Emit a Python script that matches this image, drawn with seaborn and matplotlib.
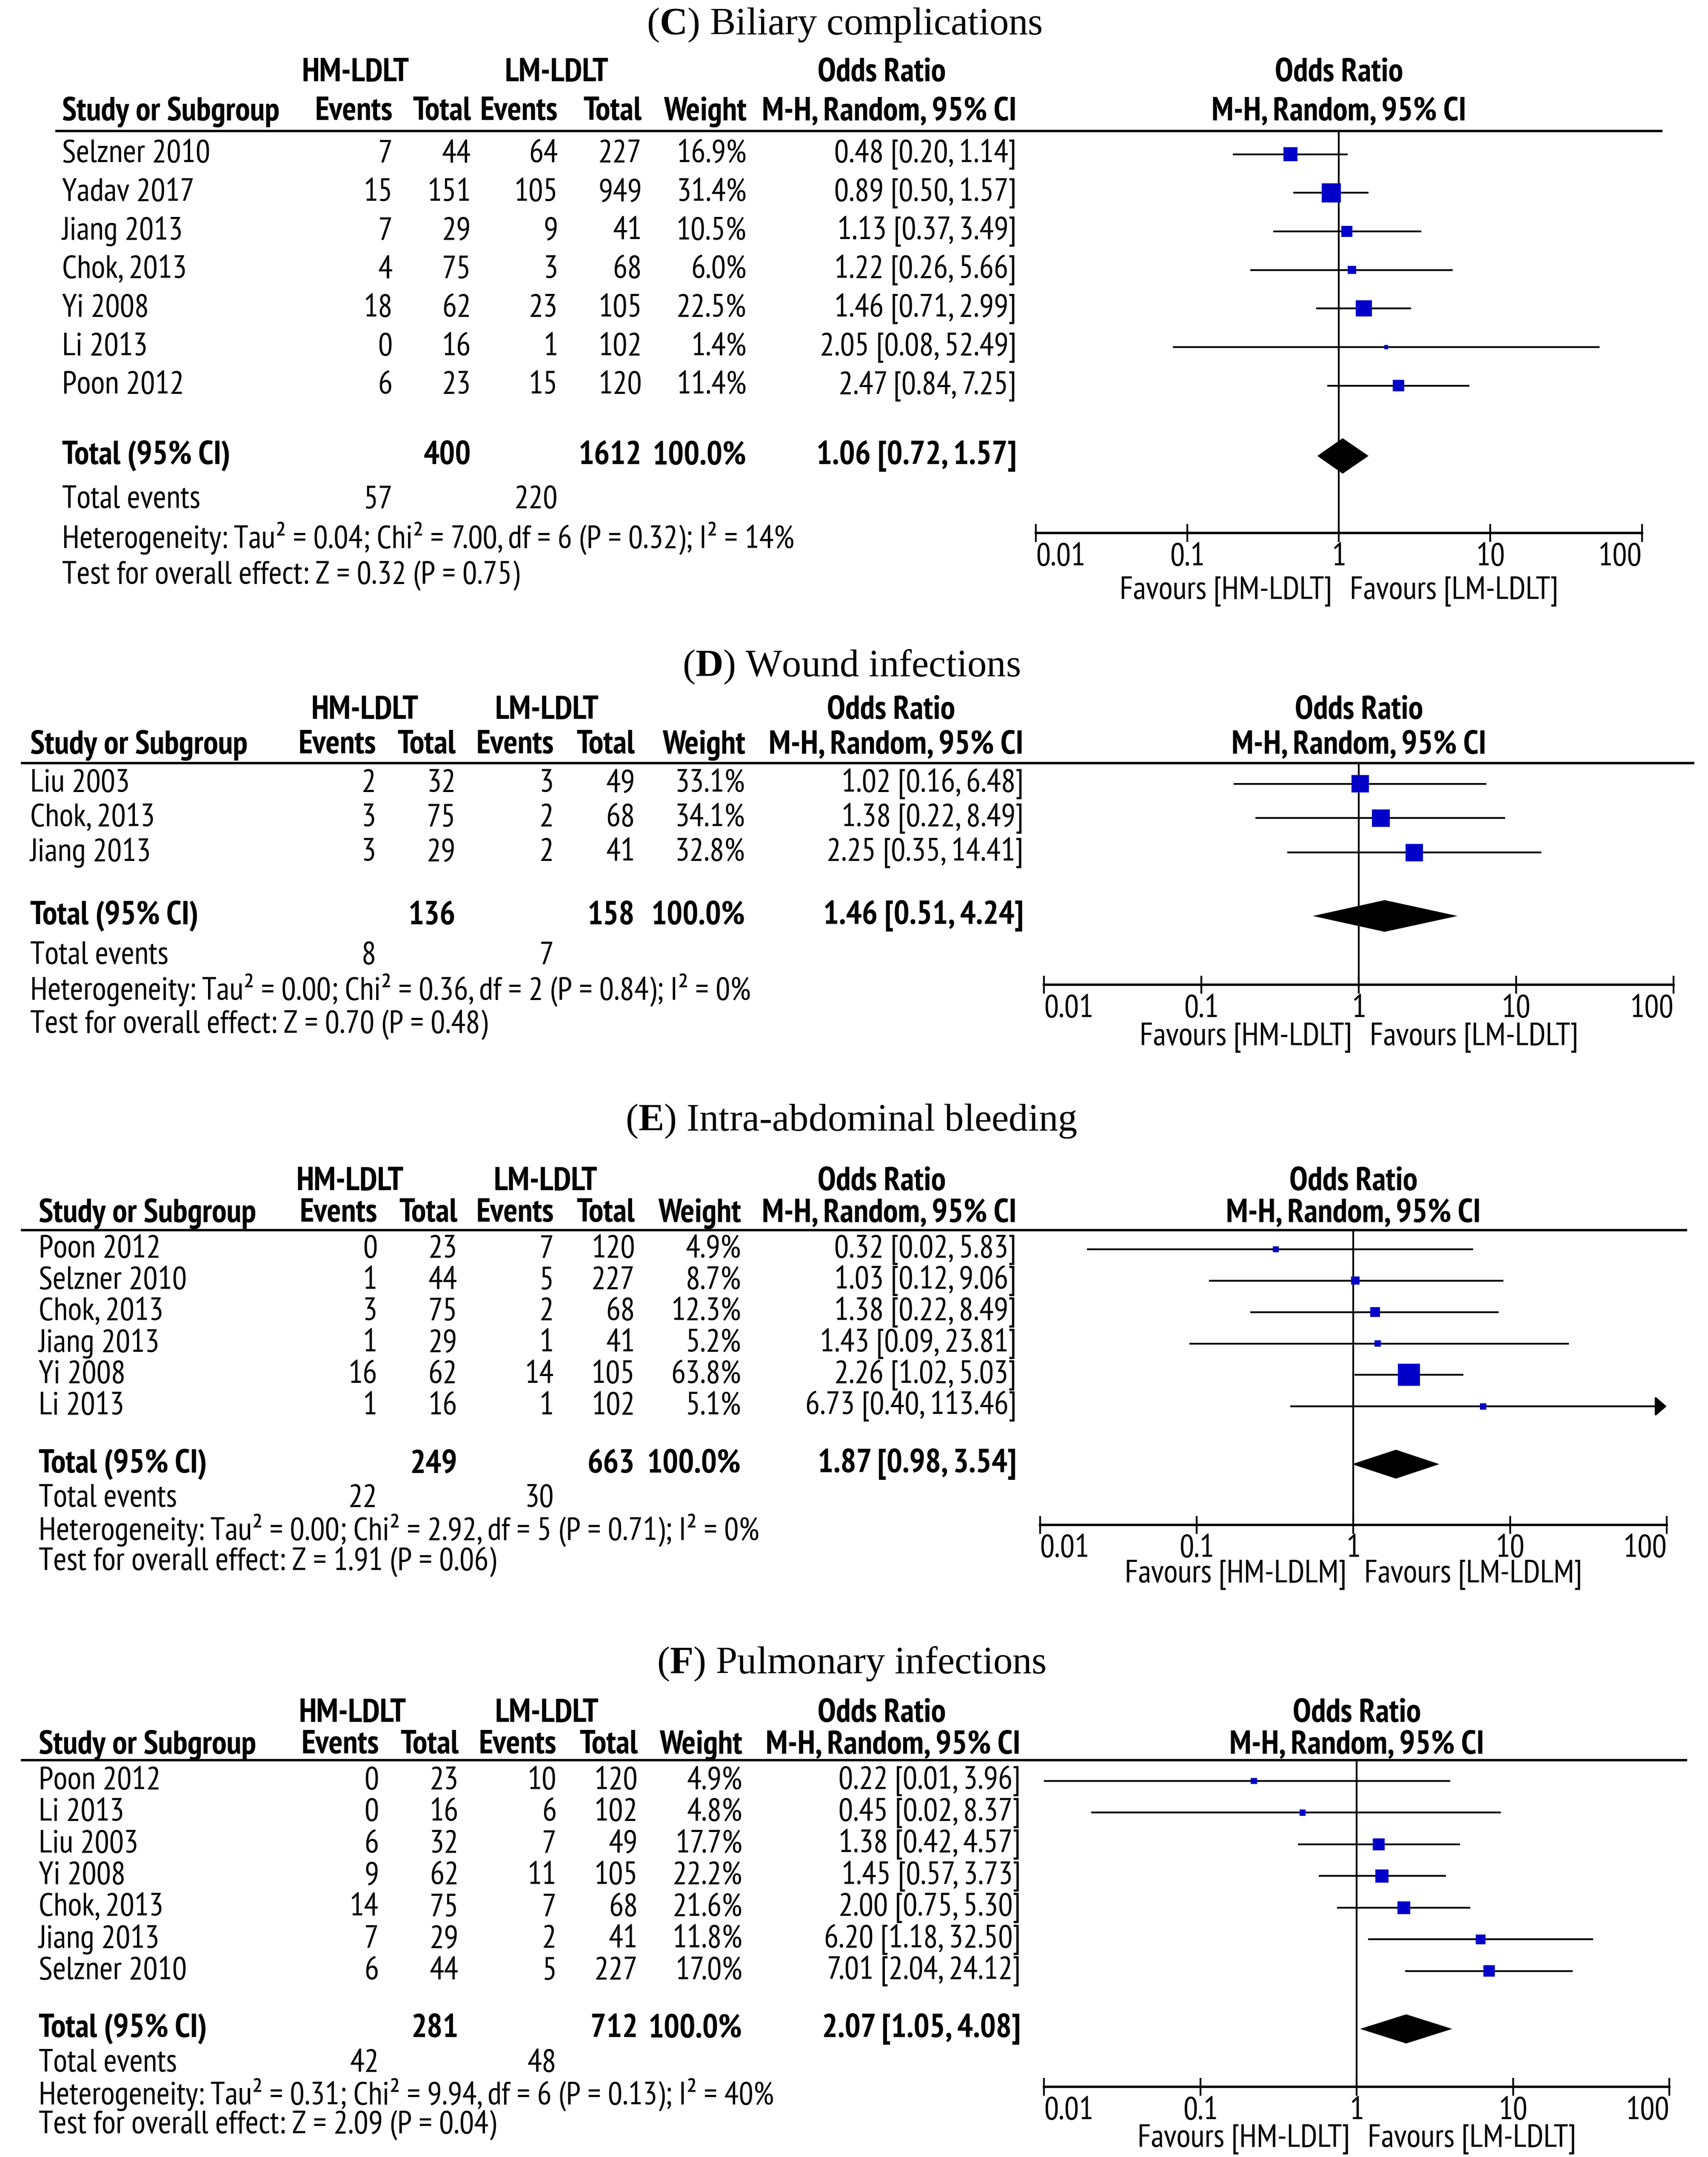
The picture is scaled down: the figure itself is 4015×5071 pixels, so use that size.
import matplotlib

matplotlib.use("Agg")
import matplotlib.pyplot as plt
import pandas as pd
import seaborn as sns

# ---- (C) Biliary complications
C_STUDY = ["Selzner 2010", "Yadav 2017", "Jiang 2013", "Chok, 2013", "Yi 2008", "Li 2013", "Poon 2012"]
C_HM_EV = [7, 15, 7, 4, 18, 0, 6]
C_HM_TOT = [44, 151, 29, 75, 62, 16, 23]
C_LM_EV = [64, 105, 9, 3, 23, 1, 15]
C_LM_TOT = [227, 949, 41, 68, 105, 102, 120]
C_WEIGHT = [16.9, 31.4, 10.5, 6.0, 22.5, 1.4, 11.4]
C_OR = [0.48, 0.89, 1.13, 1.22, 1.46, 2.05, 2.47]
C_LO = [0.20, 0.50, 0.37, 0.26, 0.71, 0.08, 0.84]
C_HI = [1.14, 1.57, 3.49, 5.66, 2.99, 52.49, 7.25]
C_TOTAL = [400, 1612]
C_EVENTS = [57, 220]
C_POOLED = [1.06, 0.72, 1.57]
C_HET = "Heterogeneity: Tau² = 0.04; Chi² = 7.00, df = 6 (P = 0.32); I² = 14%"
C_TEST = "Test for overall effect: Z = 0.32 (P = 0.75)"

# ---- (D) Wound infections
D_STUDY = ["Liu 2003", "Chok, 2013", "Jiang 2013"]
D_HM_EV = [2, 3, 3]
D_HM_TOT = [32, 75, 29]
D_LM_EV = [3, 2, 2]
D_LM_TOT = [49, 68, 41]
D_WEIGHT = [33.1, 34.1, 32.8]
D_OR = [1.02, 1.38, 2.25]
D_LO = [0.16, 0.22, 0.35]
D_HI = [6.48, 8.49, 14.41]
D_TOTAL = [136, 158]
D_EVENTS = [8, 7]
D_POOLED = [1.46, 0.51, 4.24]
D_HET = "Heterogeneity: Tau² = 0.00; Chi² = 0.36, df = 2 (P = 0.84); I² = 0%"
D_TEST = "Test for overall effect: Z = 0.70 (P = 0.48)"

# ---- (E) Intra-abdominal bleeding
E_STUDY = ["Poon 2012", "Selzner 2010", "Chok, 2013", "Jiang 2013", "Yi 2008", "Li 2013"]
E_HM_EV = [0, 1, 3, 1, 16, 1]
E_HM_TOT = [23, 44, 75, 29, 62, 16]
E_LM_EV = [7, 5, 2, 1, 14, 1]
E_LM_TOT = [120, 227, 68, 41, 105, 102]
E_WEIGHT = [4.9, 8.7, 12.3, 5.2, 63.8, 5.1]
E_OR = [0.32, 1.03, 1.38, 1.43, 2.26, 6.73]
E_LO = [0.02, 0.12, 0.22, 0.09, 1.02, 0.40]
E_HI = [5.83, 9.06, 8.49, 23.81, 5.03, 113.46]
E_TOTAL = [249, 663]
E_EVENTS = [22, 30]
E_POOLED = [1.87, 0.98, 3.54]
E_HET = "Heterogeneity: Tau² = 0.00; Chi² = 2.92, df = 5 (P = 0.71); I² = 0%"
E_TEST = "Test for overall effect: Z = 1.91 (P = 0.06)"

# ---- (F) Pulmonary infections
F_STUDY = ["Poon 2012", "Li 2013", "Liu 2003", "Yi 2008", "Chok, 2013", "Jiang 2013", "Selzner 2010"]
F_HM_EV = [0, 0, 6, 9, 14, 7, 6]
F_HM_TOT = [23, 16, 32, 62, 75, 29, 44]
F_LM_EV = [10, 6, 7, 11, 7, 2, 5]
F_LM_TOT = [120, 102, 49, 105, 68, 41, 227]
F_WEIGHT = [4.9, 4.8, 17.7, 22.2, 21.6, 11.8, 17.0]
F_OR = [0.22, 0.45, 1.38, 1.45, 2.00, 6.20, 7.01]
F_LO = [0.01, 0.02, 0.42, 0.57, 0.75, 1.18, 2.04]
F_HI = [3.96, 8.37, 4.57, 3.73, 5.30, 32.50, 24.12]
F_TOTAL = [281, 712]
F_EVENTS = [42, 48]
F_POOLED = [2.07, 1.05, 4.08]
F_HET = "Heterogeneity: Tau² = 0.31; Chi² = 9.94, df = 6 (P = 0.13); I² = 40%"
F_TEST = "Test for overall effect: Z = 2.09 (P = 0.04)"

TICKS = [0.01, 0.1, 1, 10, 100]
TICK_LABELS = ["0.01", "0.1", "1", "10", "100"]

# layout, in pixels of a 1240 x 1566 frame of the reference
W, H = 1240, 1566
DPI = 100
PT = (4015 / W) * 72 / DPI  # points per frame pixel

FS = 23.5 * PT
FS_BOLD = 24.0 * PT
FS_TITLE = 28.0 * PT
LW = 1.3 * PT
LW_AX = 1.7 * PT
BLUE = "#0000C8"

PANELS = [
    dict(title=r"($\mathbf{C}$) Biliary complications", fav=("Favours [HM-LDLT]", "Favours [LM-LDLT]"),
         study=C_STUDY, hm_ev=C_HM_EV, hm_tot=C_HM_TOT, lm_ev=C_LM_EV, lm_tot=C_LM_TOT, weight=C_WEIGHT,
         odds=C_OR, lo=C_LO, hi=C_HI, total=C_TOTAL, events=C_EVENTS, pooled=C_POOLED, het=C_HET, test=C_TEST,
         title_y=18, title_x=613, h1=53, h2=81, line_y=95, line_x=(40, 1207), name_x=45,
         cols=(285, 342, 405, 466, 542, 738), hm_c=258, lm_c=404, or_c=640, row0=112, sp=28,
         tot_y=331, ev_y=363, het_y=391, test_y=418, x001=752, x100=1192, axis_y=387, fav_y=429),
    dict(title=r"($\mathbf{D}$) Wound infections", fav=("Favours [HM-LDLT]", "Favours [LM-LDLT]"),
         study=D_STUDY, hm_ev=D_HM_EV, hm_tot=D_HM_TOT, lm_ev=D_LM_EV, lm_tot=D_LM_TOT, weight=D_WEIGHT,
         odds=D_OR, lo=D_LO, hi=D_HI, total=D_TOTAL, events=D_EVENTS, pooled=D_POOLED, het=D_HET, test=D_TEST,
         title_y=484, title_x=618, h1=516, h2=541, line_y=554, line_x=(15, 1230), name_x=22,
         cols=(273, 331, 402, 461, 541, 743), hm_c=265, lm_c=397, or_c=647, row0=569, sp=25,
         tot_y=665, ev_y=694, het_y=719, test_y=744, x001=758, x100=1215, axis_y=715, fav_y=753),
    dict(title=r"($\mathbf{E}$) Intra-abdominal bleeding", fav=("Favours [HM-LDLM]", "Favours [LM-LDLM]"),
         study=E_STUDY, hm_ev=E_HM_EV, hm_tot=E_HM_TOT, lm_ev=E_LM_EV, lm_tot=E_LM_TOT, weight=E_WEIGHT,
         odds=E_OR, lo=E_LO, hi=E_HI, total=E_TOTAL, events=E_EVENTS, pooled=E_POOLED, het=E_HET, test=E_TEST,
         title_y=814, title_x=618, h1=858, h2=881, line_y=893, line_x=(15, 1225), name_x=28,
         cols=(274, 332, 402, 461, 538, 738), hm_c=254, lm_c=396, or_c=640, row0=907, sp=22.8,
         tot_y=1063, ev_y=1088, het_y=1111, test_y=1134, x001=755, x100=1210, axis_y=1107, fav_y=1143),
    dict(title=r"($\mathbf{F}$) Pulmonary infections", fav=("Favours [HM-LDLT]", "Favours [LM-LDLT]"),
         study=F_STUDY, hm_ev=F_HM_EV, hm_tot=F_HM_TOT, lm_ev=F_LM_EV, lm_tot=F_LM_TOT, weight=F_WEIGHT,
         odds=F_OR, lo=F_LO, hi=F_HI, total=F_TOTAL, events=F_EVENTS, pooled=F_POOLED, het=F_HET, test=F_TEST,
         title_y=1208, title_x=618, h1=1244, h2=1267, line_y=1278, line_x=(15, 1225), name_x=28,
         cols=(275, 333, 404, 463, 539, 741), hm_c=256, lm_c=397, or_c=640, row0=1293, sp=23,
         tot_y=1473, ev_y=1498, het_y=1521, test_y=1543, x001=758, x100=1212, axis_y=1515, fav_y=1553),
]


def txt(ax, x, y, s, ha="left", bold=False):
    ax.text(x, y, s, ha=ha, va="center", fontsize=FS_BOLD if bold else FS,
            fontweight="bold" if bold else "normal")


def draw_panel(fig, ov, p):
    n = len(p["study"])
    c = p["cols"]
    x1 = (p["x001"] + p["x100"]) / 2

    # title + headers
    ov.text(p["title_x"], p["title_y"], p["title"], ha="center", va="center",
            fontsize=FS_TITLE, family="Liberation Serif")
    txt(ov, p["hm_c"], p["h1"], "HM-LDLT", ha="center", bold=True)
    txt(ov, p["lm_c"], p["h1"], "LM-LDLT", ha="center", bold=True)
    txt(ov, p["or_c"], p["h1"], "Odds Ratio", ha="center", bold=True)
    txt(ov, x1, p["h1"], "Odds Ratio", ha="center", bold=True)
    txt(ov, p["name_x"], p["h2"], "Study or Subgroup", bold=True)
    for x, s in zip(c, ["Events", "Total", "Events", "Total", "Weight", "M-H, Random, 95% CI"]):
        txt(ov, x, p["h2"], s, ha="right", bold=True)
    txt(ov, x1, p["h2"], "M-H, Random, 95% CI", ha="center", bold=True)
    ov.hlines(p["line_y"], *p["line_x"], color="black", lw=LW_AX)

    # study rows
    for i in range(n):
        y = p["row0"] + i * p["sp"]
        txt(ov, p["name_x"], y, p["study"][i])
        vals = [p["hm_ev"][i], p["hm_tot"][i], p["lm_ev"][i], p["lm_tot"][i],
                f"{p['weight'][i]:.1f}%",
                f"{p['odds'][i]:.2f} [{p['lo'][i]:.2f}, {p['hi'][i]:.2f}]"]
        for x, v in zip(c, vals):
            txt(ov, x, y, str(v), ha="right")

    # totals
    y = p["tot_y"]
    txt(ov, p["name_x"], y, "Total (95% CI)", bold=True)
    txt(ov, c[1], y, str(p["total"][0]), ha="right", bold=True)
    txt(ov, c[3], y, str(p["total"][1]), ha="right", bold=True)
    txt(ov, c[4], y, "100.0%", ha="right", bold=True)
    po = p["pooled"]
    txt(ov, c[5], y, f"{po[0]:.2f} [{po[1]:.2f}, {po[2]:.2f}]", ha="right", bold=True)
    txt(ov, p["name_x"], p["ev_y"], "Total events")
    txt(ov, c[0], p["ev_y"], str(p["events"][0]), ha="right")
    txt(ov, c[2], p["ev_y"], str(p["events"][1]), ha="right")
    txt(ov, p["name_x"], p["het_y"], p["het"])
    txt(ov, p["name_x"], p["test_y"], p["test"])
    txt(ov, x1 - 5, p["fav_y"], p["fav"][0], ha="right")
    txt(ov, x1 + 8, p["fav_y"], p["fav"][1], ha="left")

    # forest axes
    ax = fig.add_axes([p["x001"] / W, 1 - p["axis_y"] / H,
                       (p["x100"] - p["x001"]) / W, (p["axis_y"] - p["line_y"]) / H])
    ax.set_facecolor("none")
    ax.set_xscale("log")
    ax.set_xlim(0.01, 100)
    ax.set_ylim((p["axis_y"] - p["row0"]) / p["sp"], (p["line_y"] - p["row0"]) / p["sp"])
    for s in ["top", "left", "right"]:
        ax.spines[s].set_visible(False)
    ax.spines["bottom"].set_linewidth(LW_AX)
    ax.spines["bottom"].set_color("black")
    ax.set_xticks(TICKS)
    ax.set_xticklabels(TICK_LABELS)
    ax.minorticks_off()
    ax.set_yticks([])
    ax.tick_params(axis="x", direction="inout", length=13 * PT, width=LW, pad=0.5 * PT,
                   labelsize=FS, colors="black", bottom=True)
    labels = ax.get_xticklabels()
    labels[0].set_ha("left")
    labels[-1].set_ha("right")
    ax.grid(False)

    ax.axvline(1, color="black", lw=LW, zorder=1)

    rows = list(range(n))
    for r, lo, hi in zip(rows, p["lo"], p["hi"]):
        if hi > 100:
            ax.annotate("", xy=(100, r), xytext=(lo, r), annotation_clip=False,
                        arrowprops=dict(arrowstyle="-|>,head_length=0.35,head_width=0.3",
                                        color="black", lw=LW, shrinkA=0, shrinkB=0,
                                        mutation_scale=20 * PT))
        else:
            ax.hlines(r, lo, hi, color="black", lw=LW, zorder=2)

    # squares: area proportional to weight
    row_pt = p["sp"] * PT
    smax = (0.088 * 10 * row_pt) ** 2
    df = pd.DataFrame({"odds": p["odds"], "row": rows, "weight": p["weight"]})
    sns.scatterplot(data=df, x="odds", y="row", size="weight", sizes=(0, smax), size_norm=(0, 100),
                    marker="s", color=BLUE, edgecolor="none", linewidth=0, legend=False,
                    ax=ax, zorder=3)
    ax.set_xlabel("")
    ax.set_ylabel("")

    t = (p["tot_y"] - p["row0"]) / p["sp"]
    ax.fill([po[1], po[0], po[2], po[0]], [t, t - 0.46, t, t + 0.46], color="black", lw=0, zorder=3)


sns.set_theme(style="white")
plt.rcParams["font.family"] = ["PT Sans Narrow", "DejaVu Sans"]
plt.rcParams["mathtext.fontset"] = "custom"
plt.rcParams["mathtext.rm"] = "Liberation Serif"
plt.rcParams["mathtext.bf"] = "Liberation Serif:bold"
plt.rcParams["text.color"] = "black"

fig = plt.figure(figsize=(40.15, 50.71), dpi=DPI)
fig.patch.set_facecolor("white")
ov = fig.add_axes([0, 0, 1, 1])
ov.set_xlim(0, W)
ov.set_ylim(H, 0)
ov.axis("off")

for panel in PANELS:
    draw_panel(fig, ov, panel)

fig.savefig("out.png", dpi=DPI, facecolor="white")
